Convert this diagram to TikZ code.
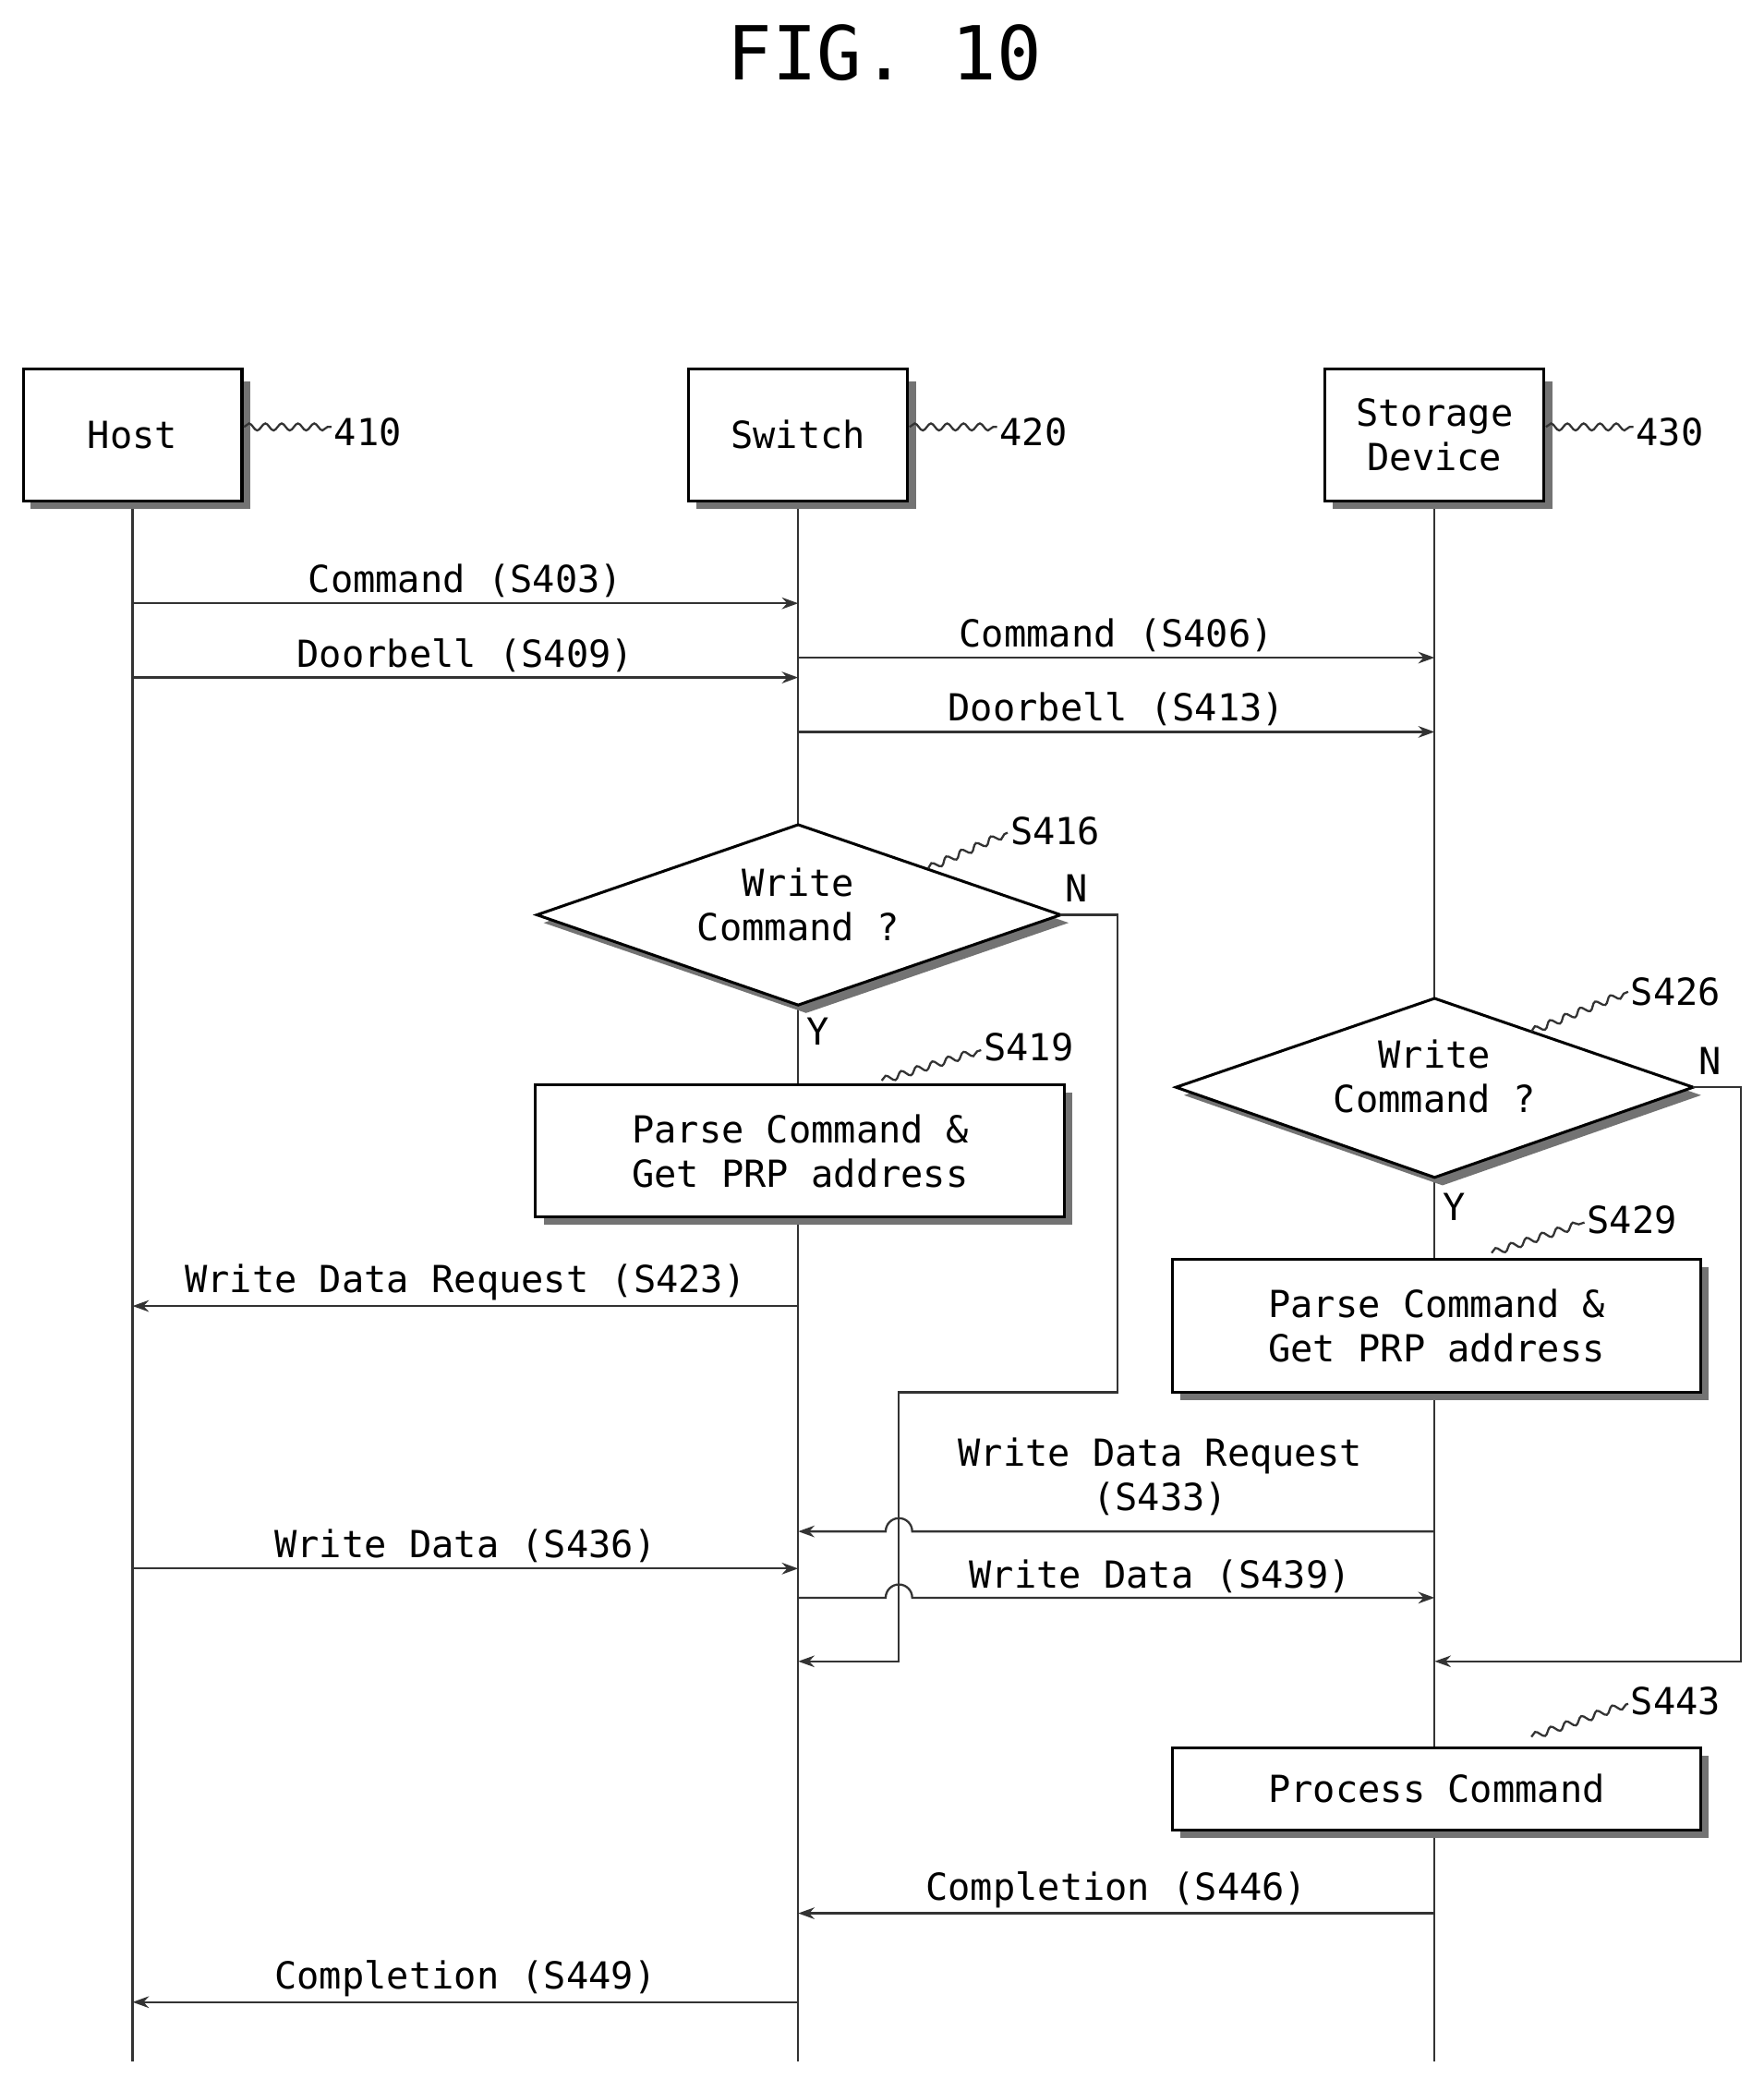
\documentclass[tikz,border=0pt]{standalone}
\usepackage{fontspec}
\setmainfont{DejaVu Sans Mono}
\usetikzlibrary{shapes.geometric,arrows.meta,decorations.pathmorphing}
\begin{document}
\begin{tikzpicture}[x=0.02cm,y=-0.02cm,
  every node/.style={font=\fontsize{16}{19}\selectfont,text=black},
  ln/.style={line width=0.9pt,black!80},
  arr/.style={ln,-{Stealth[length=7pt,width=5pt]}},
  box/.style={draw,line width=1.2pt,fill=white,align=center},
  shadow/.style={fill=black!55},
  sq/.style={ln,decorate,decoration={snake,amplitude=1.5pt,segment length=7pt}},
  lbl/.style={anchor=south,inner sep=2pt}]
\useasboundingbox (0,0) rectangle (1330,1568);
\node[font=\fontsize{32}{38}\selectfont] (title) at (667,40) {FIG. 10};
% lifelines
\draw[ln] (100,378) -- (100,1555);
\draw[ln] (602,378) -- (602,1555);
\draw[ln] (1082,378) -- (1082,1555);
% header boxes
\foreach \cx/\nm/\txt/\num in {100/host/Host/410,602/sw/Switch/420,1082/sd/{Storage\\Device}/430}{
  \fill[shadow] (\cx-77,288) rectangle (\cx+89,384);
  \node[box,minimum width=165*0.02cm,minimum height=100*0.02cm] (\nm) at (\cx,328) {\txt};
  \draw[sq] (\cx+84,322) -- (\cx+150,322);
  \node[anchor=west,inner sep=1pt] at (\cx+150,326) {\num};
}
% top arrows
\draw[arr] (100,455) -- (602,455) node[midway,lbl] {Command (S403)};
\draw[arr] (100,511) -- (602,511) node[midway,lbl] {Doorbell (S409)};
\draw[arr] (602,496) -- (1082,496) node[midway,lbl] {Command (S406)};
\draw[arr] (602,552) -- (1082,552) node[midway,lbl] {Doorbell (S413)};
% diamond S416
\fill[shadow] (410,696) -- (608,628) -- (806,696) -- (608,764) -- cycle;
\draw[line width=1.2pt,fill=white] (405,690) coordinate (d1l) -- (602,622) -- (800,690) coordinate (d1r) -- (602,758) coordinate (d1b) -- cycle;
\node[align=center] (d1) at (602,682) {Write\\Command ?};
\draw[sq] (700,655) -- (760,628);
\node[anchor=west,inner sep=1pt] at (760,627) {S416};
\node at (812,670) {N};
\node at (617,778) {Y};
\draw[arr] (d1r) -- (843,690) -- (843,1050) -- (678,1050) -- (678,1253) -- (602,1253);
% box S419
\fill[shadow] (410,824) rectangle (809,924);
\node[box,minimum width=399*0.02cm,minimum height=100*0.02cm] (b419) at (603.5,868) {Parse Command \&\\Get PRP address};
\draw[sq] (665,815) -- (740,792);
\node[anchor=west,inner sep=1pt] at (740,790) {S419};
\draw[arr] (602,985) -- (100,985) node[midway,lbl] {Write Data Request (S423)};
% diamond S426
\fill[shadow] (893,826) -- (1088,759) -- (1283,826) -- (1088,894) -- cycle;
\draw[line width=1.2pt,fill=white] (887,820) -- (1082,753) -- (1277,820) coordinate (d2r) -- (1082,888) -- cycle;
\node[align=center] (d2) at (1082,812) {Write\\Command ?};
\draw[sq] (1155,778) -- (1228,748);
\node[anchor=west,inner sep=1pt] at (1228,748) {S426};
\node at (1290,800) {N};
\node at (1097,910) {Y};
\draw[arr] (d2r) -- (1313,820) -- (1313,1253) -- (1082,1253);
% box S429
\fill[shadow] (890,956) rectangle (1289,1056);
\node[box,minimum width=399*0.02cm,minimum height=100*0.02cm] (b429) at (1083.5,1000) {Parse Command \&\\Get PRP address};
\draw[sq] (1125,945) -- (1195,922);
\node[anchor=west,inner sep=1pt] at (1195,920) {S429};
% hop arrows
\node[align=center] (l433) at (875,1114) {Write Data Request\\(S433)};
\draw[arr] (1082,1155) -- (688,1155) arc[start angle=0,end angle=180,radius=0.2cm] -- (602,1155);
\draw[arr] (100,1183) -- (602,1183) node[midway,lbl] {Write Data (S436)};
\draw[arr] (602,1205) -- (668,1205) arc[start angle=180,end angle=0,radius=0.2cm] -- (1082,1205);
\node[lbl] (l439) at (875,1205) {Write Data (S439)};
% process box
\fill[shadow] (890,1324) rectangle (1289,1386);
\node[box,minimum width=399*0.02cm,minimum height=62*0.02cm] (b443) at (1083.5,1349) {Process Command};
\draw[sq] (1155,1310) -- (1228,1285);
\node[anchor=west,inner sep=1pt] at (1228,1283) {S443};
\draw[arr] (1082,1443) -- (602,1443) node[midway,lbl] {Completion (S446)};
\draw[arr] (602,1510) -- (100,1510) node[midway,lbl] {Completion (S449)};
\end{tikzpicture}
\end{document}
